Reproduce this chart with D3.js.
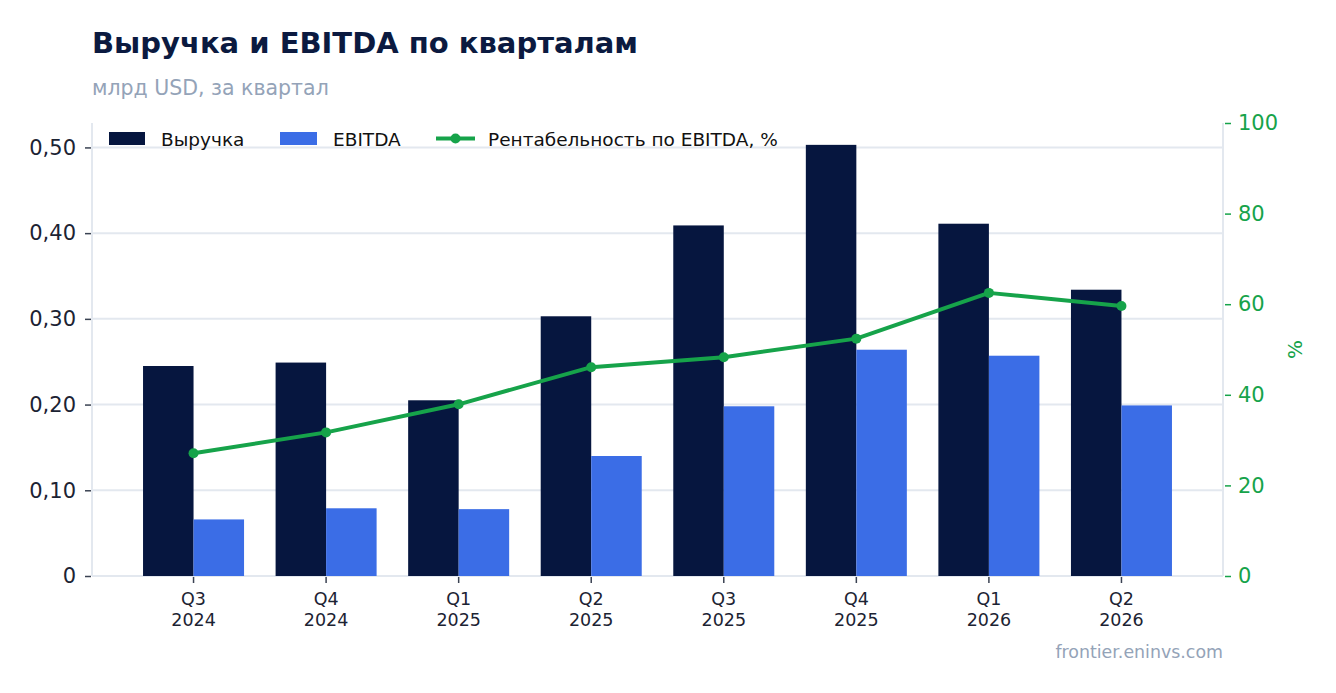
<!DOCTYPE html>
<html>
<head>
<meta charset="utf-8">
<script src="https://cdn.jsdelivr.net/npm/d3@7"></script>
<style>
  html, body { margin: 0; padding: 0; background: #ffffff; }
  svg { display: block; font-family: "DejaVu Sans", sans-serif; }
</style>
</head>
<body>
<svg id="chart" width="1336" height="693"></svg>
<script>
const categories = ["Q3 2024", "Q4 2024", "Q1 2025", "Q2 2025", "Q3 2025", "Q4 2025", "Q1 2026", "Q2 2026"];
const revenue = [0.245, 0.249, 0.205, 0.303, 0.409, 0.503, 0.411, 0.334];
const ebitda = [0.066, 0.079, 0.078, 0.140, 0.198, 0.264, 0.257, 0.199];
const margin = [27.1, 31.7, 37.9, 46.1, 48.3, 52.4, 62.5, 59.6];
const leftTicks = [0, 0.1, 0.2, 0.3, 0.4, 0.5];
const rightTicks = [0, 20, 40, 60, 80, 100];
const seriesNames = ["Выручка", "EBITDA", "Рентабельность по EBITDA, %"];

const colors = { rev: "#06163f", ebitda: "#3b6de6", margin: "#16a34a", grid: "#e3e8ef", text: "#1c2333", muted: "#94a3b8", title: "#0b1a40" };

const svg = d3.select("#chart");
const L = 92, R = 1223, T = 123, B = 576;

const x0 = d3.scaleBand().domain(categories).range([L, R]).paddingInner(0.238).paddingOuter(0.385);
const x1 = d3.scaleBand().domain(["rev", "ebitda"]).range([0, x0.bandwidth()]);
const yL = d3.scaleLinear().domain([0, 0.5285]).range([B, T]);
const yR = d3.scaleLinear().domain([0, 100]).range([B, T]);

// Title
svg.append("text").attr("x", 92).attr("y", 53).attr("fill", colors.title)
  .attr("font-size", 29).attr("font-weight", "bold").text("Выручка и EBITDA по кварталам");
svg.append("text").attr("x", 92).attr("y", 95).attr("fill", colors.muted)
  .attr("font-size", 20.5).text("млрд USD, за квартал");

// Gridlines
svg.append("g").selectAll("line").data(leftTicks.filter(d => d > 0)).join("line")
  .attr("x1", L).attr("x2", R).attr("y1", d => yL(d)).attr("y2", d => yL(d))
  .attr("stroke", colors.grid).attr("stroke-width", 2);

// Frame lines
svg.append("line").attr("x1", L).attr("x2", L).attr("y1", T).attr("y2", B).attr("stroke", colors.grid).attr("stroke-width", 2);
svg.append("line").attr("x1", R).attr("x2", R).attr("y1", T).attr("y2", B).attr("stroke", colors.grid).attr("stroke-width", 2);
svg.append("line").attr("x1", L).attr("x2", R).attr("y1", B).attr("y2", B).attr("stroke", colors.grid).attr("stroke-width", 2);

// Bars
const groups = svg.append("g").selectAll("g").data(categories).join("g")
  .attr("transform", d => `translate(${x0(d)},0)`);
groups.append("rect").attr("x", x1("rev")).attr("width", x1.bandwidth())
  .attr("y", (d, i) => yL(revenue[i])).attr("height", (d, i) => yL(0) - yL(revenue[i]))
  .attr("fill", colors.rev);
groups.append("rect").attr("x", x1("ebitda")).attr("width", x1.bandwidth())
  .attr("y", (d, i) => yL(ebitda[i])).attr("height", (d, i) => yL(0) - yL(ebitda[i]))
  .attr("fill", colors.ebitda);

// Left axis
const fmt = d => d === 0 ? "0" : d3.format(".2f")(d).replace(".", ",");
const gL = svg.append("g").attr("transform", `translate(${L},0)`)
  .call(d3.axisLeft(yL).tickValues(leftTicks).tickFormat(fmt).tickSize(6).tickPadding(10));
gL.select(".domain").remove();
gL.selectAll(".tick line").attr("stroke", "#3a4252").attr("stroke-width", 1.5).attr("transform", "translate(-1,0)");
gL.selectAll(".tick text").attr("fill", colors.text).attr("font-size", 21).attr("font-family", "DejaVu Sans");

// Right axis
const gR = svg.append("g").attr("transform", `translate(${R},0)`)
  .call(d3.axisRight(yR).tickValues(rightTicks).tickSize(6).tickPadding(9));
gR.select(".domain").remove();
gR.selectAll(".tick line").attr("stroke", colors.margin).attr("stroke-width", 1.5).attr("transform", "translate(2,0)");
gR.selectAll(".tick text").attr("fill", colors.margin).attr("font-size", 21).attr("font-family", "DejaVu Sans");
svg.append("text").attr("transform", `translate(1302,${(T + B) / 2}) rotate(-90)`)
  .attr("text-anchor", "middle").attr("fill", colors.margin).attr("font-size", 20).text("%");

// Bottom axis
const gB = svg.append("g").attr("transform", `translate(0,${B})`)
  .call(d3.axisBottom(x0).tickSize(6).tickPadding(8));
gB.select(".domain").remove();
gB.selectAll(".tick line").attr("stroke", "#3a4252").attr("stroke-width", 1.5).attr("transform", "translate(0,1)");
gB.selectAll(".tick text").attr("fill", colors.text).attr("font-size", 17.5).attr("font-family", "DejaVu Sans")
  .attr("dy", null).attr("y", null)
  .each(function(d) {
    const parts = d.split(" ");
    const t = d3.select(this).text(null);
    t.append("tspan").attr("x", 0).attr("y", 28.5).text(parts[0]);
    t.append("tspan").attr("x", 0).attr("y", 49.5).text(parts[1]);
  });

// Margin line
const line = d3.line().x((d, i) => x0(categories[i]) + x0.bandwidth() / 2).y(d => yR(d));
svg.append("path").datum(margin).attr("d", line).attr("fill", "none")
  .attr("stroke", colors.margin).attr("stroke-width", 4).attr("stroke-linejoin", "round");
svg.append("g").selectAll("circle").data(margin).join("circle")
  .attr("cx", (d, i) => x0(categories[i]) + x0.bandwidth() / 2).attr("cy", d => yR(d))
  .attr("r", 5).attr("fill", colors.margin);

// Legend
const lg = svg.append("g").attr("font-size", 18.5).attr("fill", "#111111");
lg.append("rect").attr("x", 109).attr("y", 132).attr("width", 36).attr("height", 13).attr("fill", colors.rev);
lg.append("text").attr("x", 161).attr("y", 145.5).text(seriesNames[0]);
lg.append("rect").attr("x", 280).attr("y", 132).attr("width", 37).attr("height", 13).attr("fill", colors.ebitda);
lg.append("text").attr("x", 333).attr("y", 145.5).text(seriesNames[1]);
lg.append("line").attr("x1", 436).attr("x2", 475).attr("y1", 138.5).attr("y2", 138.5).attr("stroke", colors.margin).attr("stroke-width", 4);
lg.append("circle").attr("cx", 455.5).attr("cy", 138.5).attr("r", 5).attr("fill", colors.margin);
lg.append("text").attr("x", 488).attr("y", 145.5).text(seriesNames[2]);

// Watermark
svg.append("text").attr("x", 1223).attr("y", 658).attr("text-anchor", "end")
  .attr("fill", colors.muted).attr("font-size", 17.4).text("frontier.eninvs.com");
</script>
</body>
</html>
